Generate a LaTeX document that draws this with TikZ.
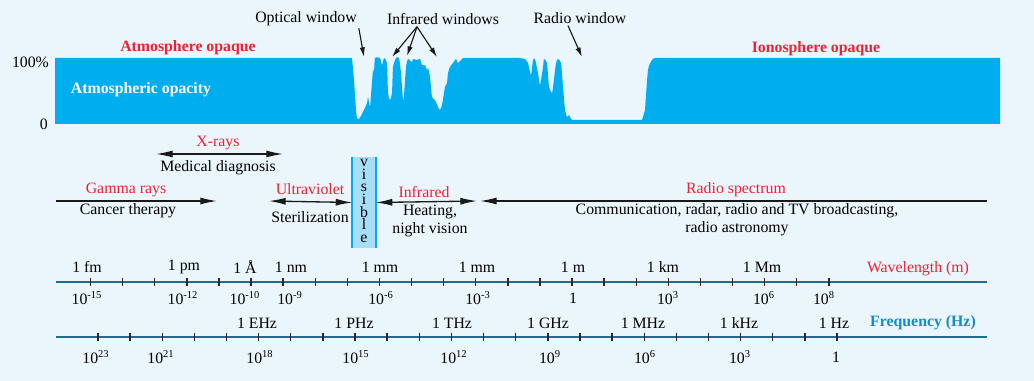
\documentclass[tikz,border=0pt]{standalone}
\usepackage{fontspec}
\setmainfont{Liberation Serif}
\usetikzlibrary{arrows.meta}
\definecolor{bgpale}{HTML}{EAF6FC}
\definecolor{opblue}{HTML}{00AEEF}
\definecolor{labred}{HTML}{EC2233}
\definecolor{axteal}{HTML}{1C6E8D}
\definecolor{freqblue}{HTML}{1889C4}
\definecolor{visfill}{HTML}{A8DDF6}
\begin{document}
\begin{tikzpicture}[x=0.02cm,y=-0.02cm,font=\fontsize{9}{10.2}\selectfont,
  lbl/.style={inner sep=1pt},
  redlbl/.style={lbl,text=labred},
  band/.style={draw=black!90,line width=0.75pt},
  onehead/.style={band,-{Latex[length=9.5pt,width=4pt]}},
  twohead/.style={band,{Latex[length=9.5pt,width=4pt]}-{Latex[length=9.5pt,width=4pt]}},
  pointer/.style={draw=black!90,line width=0.65pt,-{Latex[length=5.5pt,width=3pt]}},
  axisline/.style={draw=axteal,line width=1.1pt},
  tickmark/.style={draw=black!85,line width=0.8pt}]
\useasboundingbox (0,0) rectangle (1034,381);
\fill[bgpale] (0,0) rectangle (1034,381);
% opacity band
\fill[opblue] (55,124) -- (55,58) -- (352,58) -- plot[smooth,tension=0.3] coordinates {
  (354,80) (356,110) (357,118) (359,119) (363,112) (367,103) (368,97) (370,107)
  (371,95) (373,70) (374,72) (375,58) (380,58) (382,65) (384,58) (387,63) (388,93)
  (390,100) (392,93) (393,67) (396,58) (399,58) (401,73) (403,100) (404,95) (406,67)
  (408,59) (412,62) (413,59) (417,60) (420,59) (422,65) (425,65) (427,70) (428,68)
  (430,77) (432,97) (435,100) (438,107) (440,110) (442,105) (445,87) (447,83)
  (448,73) (450,67) (453,63) (456,59) (458,63) (461,60) (463,58)}
  -- (520,58) -- plot[smooth,tension=0.3] coordinates {(525,59) (528,63) (531,75)
  (533,60) (535,59) (538,73) (540,85) (543,67) (544,59) (547,63) (549,87) (552,93)
  (553,87) (556,63) (558,59) (561,63) (563,87) (565,110) (567,117) (569,115)
  (571,119) (573,120)} -- (642,120) -- plot[smooth,tension=0.4] coordinates {
  (645,110) (648,70) (652,60) (655,58)} -- (1000,58) -- (1000,124) -- cycle;
\node[lbl,anchor=east] (pct-full) at (51,62) {100\%};
\node[lbl,anchor=east] (pct-zero) at (50,124) {0};
\node[redlbl,font=\fontsize{9}{10.2}\selectfont\bfseries] (atm-opaque) at (188,48) {Atmosphere opaque};
\node[redlbl,font=\fontsize{9}{10.2}\selectfont\bfseries] (iono-opaque) at (816,49) {Ionosphere opaque};
\node[lbl,text=white,font=\fontsize{9}{10.2}\selectfont\bfseries] (opacity) at (141,90) {Atmospheric opacity};
% windows
\node[lbl] (optical) at (306,19) {Optical window};
\node[lbl] (irwin) at (443,19) {Infrared windows};
\node[lbl] (radiowin) at (580,18) {Radio window};
\coordinate (opt-tip) at (364,57);
\coordinate (ir-tip1) at (392,57);
\coordinate (ir-tip2) at (407,56);
\coordinate (ir-tip3) at (437,57);
\coordinate (rad-tip) at (582,57);
\draw[pointer] (optical.south east) -- (opt-tip);
\foreach \k in {1,2,3}
  \draw[pointer] ([xshift=-0.52cm]irwin.south) -- (ir-tip\k);
\draw[pointer] ([xshift=-0.24cm]radiowin.south) -- (rad-tip);
% bands
\node[fill=visfill,minimum width=0.45cm,minimum height=1.82cm,inner sep=0pt] (visible) at (364,202.5) {};
\draw[draw=opblue,line width=1.1pt] (visible.north west) -- (visible.south west);
\draw[draw=opblue,line width=1.1pt] (visible.north east) -- (visible.south east);
\node[lbl,align=center,font=\fontsize{9}{7.2}\selectfont] (vis-text) at (364,201) {v\\i\\s\\i\\b\\l\\e};
\coordinate (xray-l) at (156,154);
\coordinate (xray-r) at (283,154);
\coordinate (gamma-l) at (56,201);
\coordinate (gamma-r) at (217,201);
\coordinate (uv-l) at (269,201);
\coordinate (ir-r) at (477,201);
\coordinate (radio-l) at (480,201);
\coordinate (radio-r) at (987,201);
\draw[twohead] (xray-l) -- (xray-r);
\draw[onehead] (gamma-l) -- (gamma-r);
\draw[twohead] (uv-l) -- (visible.west);
\draw[twohead] (visible.east) -- (ir-r);
\draw[onehead] (radio-r) -- (radio-l);
\node[redlbl] (xray-name) at (218,143) {X-rays};
\node[lbl] (xray-use) at (218,168) {Medical diagnosis};
\node[redlbl] (gamma-name) at (126,190) {Gamma rays};
\node[lbl] (gamma-use) at (128,211) {Cancer therapy};
\node[redlbl] (uv-name) at (310,189) {Ultraviolet};
\node[lbl] (uv-use) at (310,217) {Sterilization};
\node[redlbl] (ir-name) at (424,192) {Infrared};
\node[lbl,align=center] (ir-use) at (430,221) {Heating,\\night vision};
\node[redlbl] (radio-name) at (736,190) {Radio spectrum};
\node[lbl,align=center] (radio-use) at (737,220) {Communication, radar, radio and TV broadcasting,\\radio astronomy};
% wavelength scale
\draw[axisline] (56,282) -- (987,282);
\foreach \n in {-15,...,8}
  \draw[tickmark] (572+32.1*\n,278) -- ++(0,8);
\foreach \x/\t [count=\i] in {87/1 fm,184/1 pm,245/1 Å,291/1 nm,380/1 mm,477/1 mm,573/1 m,663/1 km,762/1 Mm}
  \node[lbl] (wl-unit\i) at (\x,267) {\t};
\foreach \x/\e [count=\i] in {87/-15,183/-12,245/-10,290/-9,381/-6,478/-3,668/3,764/6,824/8}
  \node[lbl] (wl-pow\i) at (\x,298) {10\textsuperscript{\e}};
\node[lbl] (wl-one) at (573,298) {1};
\node[redlbl] (wl-name) at (918,269) {Wavelength (m)};
% frequency scale
\draw[axisline] (56,337) -- (987,337);
\foreach \n in {0,...,23}
  \draw[tickmark] (837-32.13*\n,333) -- ++(0,8);
\foreach \x/\t [count=\i] in {257/1 EHz,354/1 PHz,452/1 THz,548/1 GHz,643/1 MHz,739/1 kHz,834/1 Hz}
  \node[lbl] (fq-unit\i) at (\x,323) {\t};
\foreach \x/\e [count=\i] in {96/23,161/21,260/18,356/15,454/12,550/9,645/6,740/3}
  \node[lbl] (fq-pow\i) at (\x,357) {10\textsuperscript{\e}};
\node[lbl] (fq-one) at (836,357) {1};
\node[lbl,text=freqblue,font=\fontsize{9}{10.2}\selectfont\bfseries] (fq-name) at (923,323) {Frequency (Hz)};
\end{tikzpicture}
\end{document}
